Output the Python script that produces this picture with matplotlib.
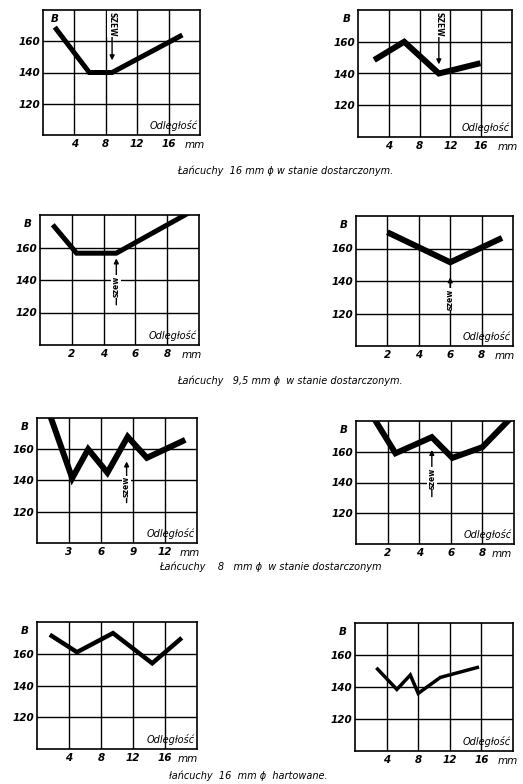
import matplotlib.pyplot as plt

# twardość B w funkcji odległości od szwu [mm]
x_16_a = [1.5, 5.9, 8.8, 17.75]
b_16_a = [169, 140, 140, 164]
x_16_b = [2.1, 6.0, 10.5, 15.9]
b_16_b = [148.5, 160, 140, 146.5]

x_95_a = [0.8, 2.3, 4.8, 9.3]
b_95_a = [174, 156.5, 156.5, 181]
x_95_b = [2.0, 6.0, 9.3]
b_95_b = [170, 151.5, 166.5]

x_8_a = [1.0, 3.3, 4.8, 6.6, 8.5, 10.3, 13.9]
b_8_a = [186, 141.5, 160, 145, 168, 154.5, 166]
x_8_b = [1.0, 2.5, 4.8, 6.1, 8.0, 9.8]
b_8_b = [184, 159, 169.5, 156, 163, 182]

x_16h_a = [1.6, 5.0, 9.5, 14.4, 18.1]
b_16h_a = [172, 161, 173, 154, 170]
x_16h_b = [2.7, 5.3, 7.0, 8.0, 10.8, 15.7]
b_16h_b = [152, 138.5, 147.5, 136, 146, 152.5]

# położenie szwu: x, początek strzałki, grot (None = brak)
seam_x = [8.8, 10.5, 4.8, 6.0, 8.4, 4.8, None, None]
seam_tail = [180, 180, 123, 120, 124, 129, None, None]
seam_head = [146, 144, 155, 144, 154, 163, None, None]

y_ticks = [120, 140, 160]
x_ticks_16 = [4, 8, 12, 16]
x_ticks_95 = [2, 4, 6, 8]
x_ticks_8 = [3, 6, 9, 12]

captions = [
    "Łańcuchy  16 mm ϕ w stanie dostarczonym.",
    "Łańcuchy   9,5 mm ϕ  w stanie dostarczonym.",
    "Łańcuchy    8   mm ϕ  w stanie dostarczonym",
    "łańcuchy  16  mm ϕ  hartowane.",
]

W, H = 523, 784
fig = plt.figure(figsize=(W / 100, H / 100), dpi=100)

# ramki wykresów w pikselach: lewo, góra, prawo, dół
boxes = [
    (43, 10, 200, 135), (358, 10, 512, 137),
    (40, 215, 199, 345), (356, 216, 513, 346),
    (37, 418, 197, 543), (356, 421, 514, 544),
    (37, 622, 197, 749), (355, 623, 513, 751),
]
series = [
    (x_16_a, b_16_a), (x_16_b, b_16_b),
    (x_95_a, b_95_a), (x_95_b, b_95_b),
    (x_8_a, b_8_a), (x_8_b, b_8_b),
    (x_16h_a, b_16h_a), (x_16h_b, b_16h_b),
]
xmax = [20, 20, 10, 10, 15, 10, 20, 20]
xticks = [x_ticks_16, x_ticks_16, x_ticks_95, x_ticks_95,
          x_ticks_8, x_ticks_95, x_ticks_16, x_ticks_16]
mm_x = [18.1, 18.2, 8.9, 8.85, 13.4, 8.6, 17.6, 18.1]
widths = [3.6, 4.3, 3.6, 4.3, 4.3, 4.3, 3.2, 2.5]

font = dict(style="italic", weight="bold", size=7.5)

for i, (l, t, r, b) in enumerate(boxes):
    ax = fig.add_axes([l / W, 1 - b / H, (r - l) / W, (b - t) / H])
    xs, ys = series[i]
    ax.plot(xs, ys, color="black", lw=widths[i],
            solid_joinstyle="miter", solid_capstyle="butt", zorder=3)
    ax.set_xlim(0, xmax[i])
    ax.set_ylim(100, 180)
    step = xmax[i] / 5
    for k in range(1, 5):
        ax.axvline(k * step, color="black", lw=1.0, zorder=1)
    for yv in y_ticks:
        ax.axhline(yv, color="black", lw=1.0, zorder=1)
    ax.set_xticks(xticks[i])
    ax.set_xticklabels([str(v) for v in xticks[i]], **font)
    ax.set_yticks(y_ticks)
    ax.set_yticklabels([str(v) for v in y_ticks], **font)
    ax.tick_params(length=0, pad=3)
    ax.tick_params(axis="y", pad=2)
    for s in ax.spines.values():
        s.set_linewidth(1.2)

    ax.annotate("mm", xy=(mm_x[i], 0), xycoords=ax.get_xaxis_transform(),
                xytext=(0, -3.5), textcoords="offset points",
                ha="left", va="top", style="italic", size=7.5)
    ax.text(0.985, 0.03, "Odległość", transform=ax.transAxes,
            ha="right", va="bottom", style="italic", size=7, zorder=4)
    if i == 0:
        ax.text(0.05, 0.97, "B", transform=ax.transAxes,
                ha="left", va="top", **font)
    else:
        ax.text(-0.05, 0.97, "B", transform=ax.transAxes,
                ha="right", va="top", **font)

    if seam_x[i] is not None:
        sx, tail, head = seam_x[i], seam_tail[i], seam_head[i]
        ax.annotate("", xy=(sx, head), xytext=(sx, tail),
                    arrowprops=dict(arrowstyle="-|>", color="black",
                                    lw=1.0, mutation_scale=7), zorder=2)
        if i < 2:
            ax.text(sx, 171, "SZEW", rotation=-90, ha="center", va="center",
                    size=5.5, weight="bold", zorder=4,
                    bbox=dict(facecolor="white", edgecolor="none", pad=0.3))
        else:
            ax.text(sx, (tail + head) / 2 - 3, "szew", rotation=90,
                    ha="center", va="center", size=5.5, weight="bold",
                    zorder=4,
                    bbox=dict(facecolor="white", edgecolor="none", pad=0.3))

cap_pos = [(285, 171), (290, 381), (270, 567), (248, 776)]
for text, (cx, cy) in zip(captions, cap_pos):
    fig.text(cx / W, 1 - cy / H, text, ha="center", va="center",
             style="italic", size=7)

fig.savefig("out.png", dpi=100)
